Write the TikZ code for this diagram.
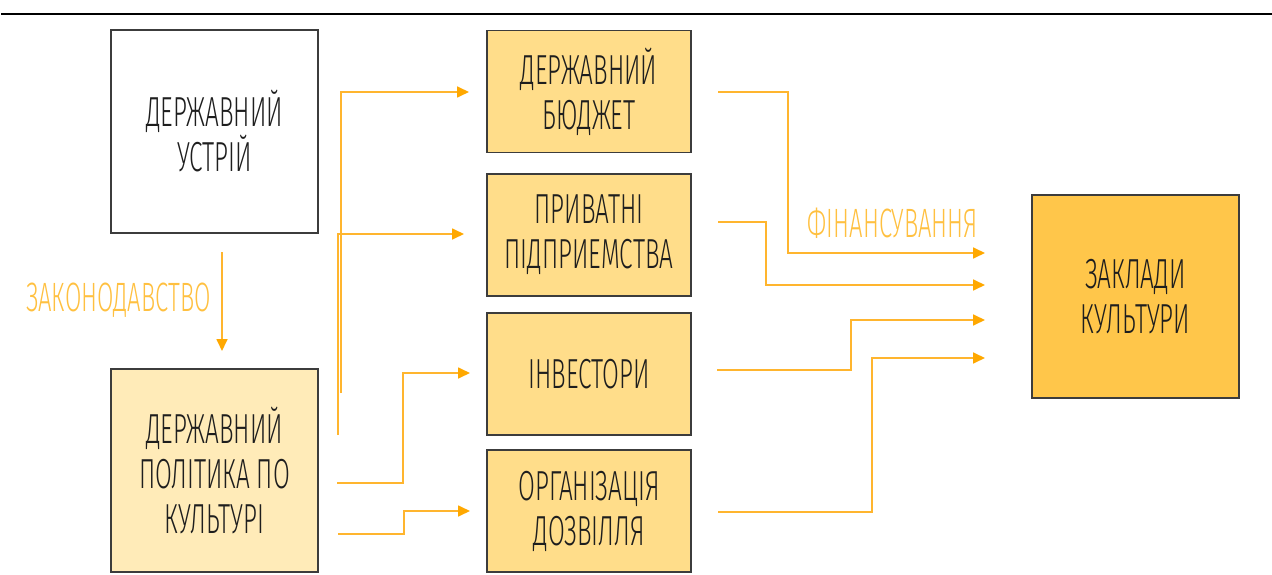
\documentclass[tikz,border=0pt]{standalone}
\usepackage{fontspec}
\setmainfont{Fira Sans}[UprightFont={* Light}, FakeStretch=0.58]
\usetikzlibrary{arrows.meta}
\definecolor{boxline}{HTML}{3C3C3C}
\definecolor{fillB}{HTML}{FFEBB8}
\definecolor{fillM}{HTML}{FFDD8A}
\definecolor{fillG}{HTML}{FFC64A}
\definecolor{arr}{HTML}{FFB52E}
\definecolor{tip}{HTML}{FFA800}
\definecolor{lbl}{HTML}{FFC040}
\definecolor{txt}{HTML}{1E1E1E}
\tikzset{
  box/.style={draw=boxline, line width=1.3pt, inner sep=0pt, outer sep=0pt, align=center,
    text=txt, font=\fontsize{42}{45}\selectfont},
  bigbox/.style={box, minimum width=207pt, minimum height=203pt},
  midbox/.style={box, fill=fillM, minimum width=204pt, minimum height=122pt},
  flow/.style={draw=arr, line width=1.7pt, -{Triangle[length=12pt,width=11pt,fill=tip,color=tip]}},
  lab/.style={text=lbl, font=\fontsize{41}{44}\selectfont, inner sep=0pt}
}
\begin{document}
\begin{tikzpicture}[x=1pt,y=-1pt]
\useasboundingbox (0,0) rectangle (1272,575);
\coordinate (tl) at (1,14);
\coordinate (tr) at (1272,14);
\draw[line width=2pt, black] (tl) -- (tr);

\node[bigbox, fill=white] (A) at (214.5,131.5) {ДЕРЖАВНИЙ\\УСТРІЙ};
\node[bigbox, fill=fillB] (B) at (214.5,470.5) {ДЕРЖАВНИЙ\\ПОЛІТИКА ПО\\КУЛЬТУРІ};
\node[midbox] (C) at (589,91.5) {ДЕРЖАВНИЙ\\БЮДЖЕТ};
\node[midbox] (D) at (589,235) {ПРИВАТНІ\\ПІДПРИЕМСТВА};
\node[midbox] (E) at (589,374) {ІНВЕСТОРИ};
\node[midbox] (F) at (589,511) {ОРГАНІЗАЦІЯ\\ДОЗВІЛЛЯ};
\node[bigbox, fill=fillG] (G) at (1135.5,296.5) {ЗАКЛАДИ\\КУЛЬТУРИ};

% legislation arrow
\coordinate (z1) at (222,252);
\coordinate (z2) at (222,351);
\draw[flow] (z1) -- (z2);
\node[lab, anchor=east] (zl) at (211,300) {ЗАКОНОДАВСТВО};

% left arrows
\coordinate (l1s) at (341,393); \coordinate (l1e) at (469,92);
\coordinate (l2s) at (338,435); \coordinate (l2e) at (464,234);
\coordinate (l3s) at (337,483); \coordinate (l3e) at (470,373);
\coordinate (l4s) at (338,534); \coordinate (l4e) at (470,511);
\draw[flow] (l1s) |- (l1e);
\draw[flow] (l2s) |- (l2e);
\draw[flow] (l3s) -- (403,483) |- (l3e);
\draw[flow] (l4s) -- (404,534) |- (l4e);

% right arrows
\coordinate (r1s) at (718,92);  \coordinate (r1e) at (985,253);
\coordinate (r2s) at (718,222); \coordinate (r2e) at (985,285);
\coordinate (r3s) at (717,370); \coordinate (r3e) at (985,320);
\coordinate (r4s) at (718,512); \coordinate (r4e) at (985,358);
\draw[flow] (r1s) -- (788,92) |- (r1e);
\draw[flow] (r2s) -- (766,222) |- (r2e);
\draw[flow] (r3s) -- (851,370) |- (r3e);
\draw[flow] (r4s) -- (872,512) |- (r4e);
\node[lab, anchor=east] (fl) at (978,223) {ФІНАНСУВАННЯ};
\end{tikzpicture}
\end{document}
